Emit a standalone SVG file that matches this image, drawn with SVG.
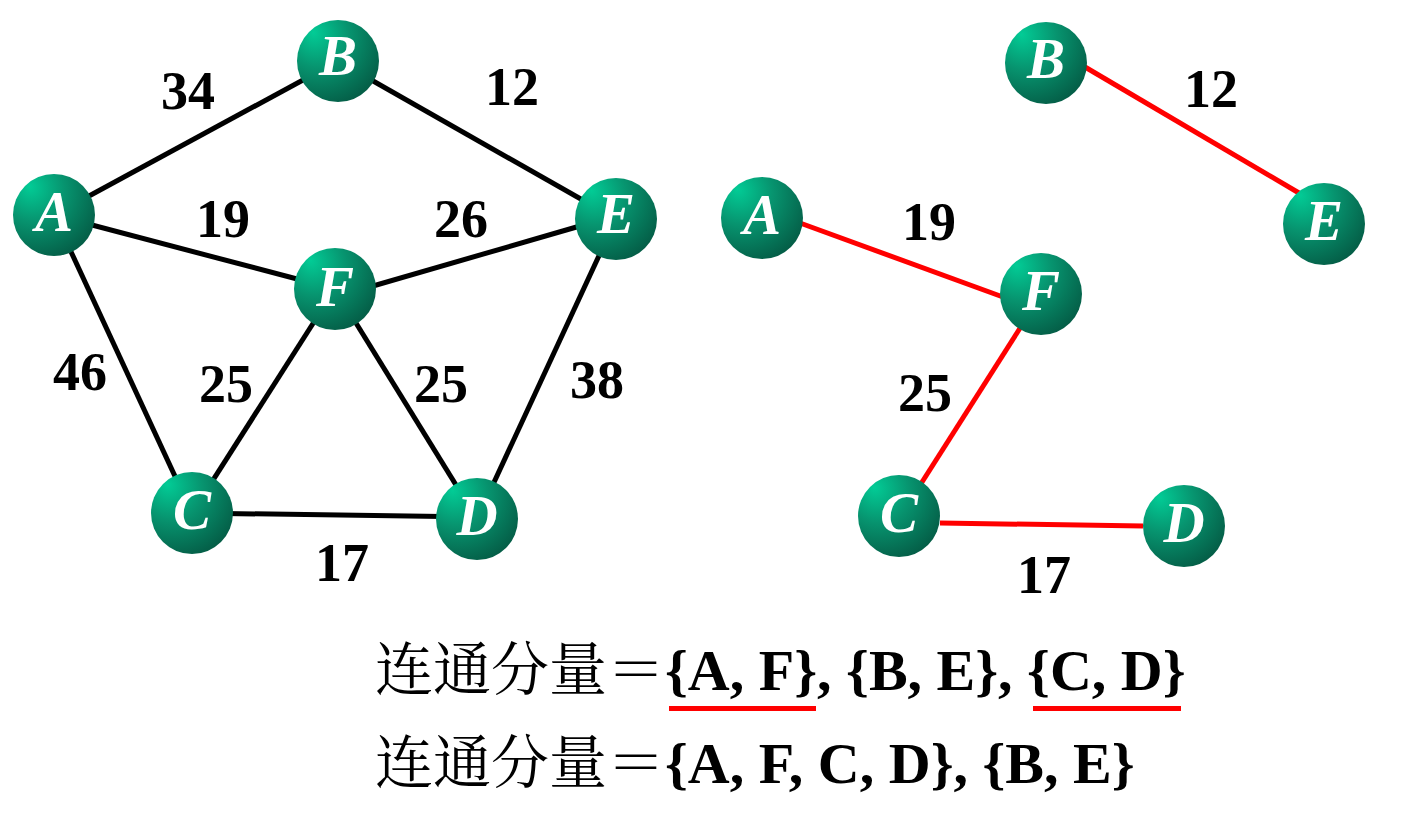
<svg xmlns="http://www.w3.org/2000/svg" width="1406" height="835" viewBox="0 0 1406 835">
<defs>
<radialGradient id="ball" cx="0.3" cy="0.25" r="0.85" fx="0.2" fy="0.15">
<stop offset="0" stop-color="#02cc96"/>
<stop offset="0.45" stop-color="#07946f"/>
<stop offset="1" stop-color="#045a44"/>
</radialGradient>
<style>
.node circle{fill:url(#ball)}
.node text{fill:#fff;font-family:"Liberation Serif","Times New Roman",serif;font-style:italic;font-weight:bold;font-size:57px;text-anchor:middle}
.blk{stroke:#000;stroke-width:5;fill:none}
.red{stroke:#ff0000;stroke-width:5;fill:none}
.w{font-family:"Liberation Serif","Times New Roman",serif;font-weight:bold;font-size:54px;text-anchor:middle;fill:#000}
.cap{font-family:"Liberation Serif","Noto Serif CJK SC","Noto Sans CJK SC",serif;font-size:58px;fill:#000}
.cap tspan.l{font-weight:bold}
</style>
</defs>
<rect width="1406" height="835" fill="#fff"/>
<g id="connectors">
<line class="blk" x1="54" y1="215" x2="338" y2="61"/>
<line class="blk" x1="338" y1="61" x2="616" y2="219"/>
<line class="blk" x1="54" y1="215" x2="335" y2="289"/>
<line class="blk" x1="335" y1="297" x2="580" y2="226"/>
<line class="blk" x1="54" y1="215" x2="192" y2="513"/>
<line class="blk" x1="335" y1="289" x2="192" y2="513"/>
<line class="blk" x1="335" y1="289" x2="477" y2="519"/>
<line class="blk" x1="616" y1="219" x2="477" y2="519"/>
<line class="blk" x1="192" y1="513" x2="477" y2="517"/>
<line class="red" x1="1085" y1="67" x2="1299" y2="193"/>
<line class="red" x1="800" y1="223" x2="1003" y2="297"/>
<line class="red" x1="1022" y1="325" x2="917" y2="490"/>
<line class="red" x1="940" y1="523" x2="1143" y2="526"/>
</g>
<g id="weights">
<text class="w" x="188" y="109">34</text>
<text class="w" x="512" y="105">12</text>
<text class="w" x="223" y="237">19</text>
<text class="w" x="461" y="237">26</text>
<text class="w" x="80" y="390">46</text>
<text class="w" x="226" y="402">25</text>
<text class="w" x="441" y="402">25</text>
<text class="w" x="597" y="398">38</text>
<text class="w" x="342" y="581">17</text>
<text class="w" x="1211" y="107">12</text>
<text class="w" x="929" y="240">19</text>
<text class="w" x="925" y="411">25</text>
<text class="w" x="1044" y="593">17</text>
</g>
<g id="node-A1" class="node"><circle cx="54" cy="215" r="41"/><text x="54" y="231">A</text></g>
<g id="node-B1" class="node"><circle cx="338" cy="61" r="41"/><text x="338" y="75">B</text></g>
<g id="node-E1" class="node"><circle cx="616" cy="219" r="41"/><text x="616" y="233">E</text></g>
<g id="node-F1" class="node"><circle cx="335" cy="289" r="41"/><text x="335" y="306">F</text></g>
<g id="node-C1" class="node"><circle cx="192" cy="513" r="41"/><text x="192" y="529">C</text></g>
<g id="node-D1" class="node"><circle cx="477" cy="519" r="41"/><text x="477" y="535">D</text></g>
<g id="node-B2" class="node"><circle cx="1046" cy="63" r="41"/><text x="1046" y="78">B</text></g>
<g id="node-E2" class="node"><circle cx="1324" cy="224" r="41"/><text x="1324" y="240">E</text></g>
<g id="node-A2" class="node"><circle cx="762" cy="218" r="41"/><text x="762" y="234">A</text></g>
<g id="node-F2" class="node"><circle cx="1041" cy="294" r="41"/><text x="1041" y="310">F</text></g>
<g id="node-C2" class="node"><circle cx="899" cy="516" r="41"/><text x="899" y="532">C</text></g>
<g id="node-D2" class="node"><circle cx="1184" cy="526" r="41"/><text x="1184" y="542">D</text></g>
<g id="caption">
<text class="cap" x="375" y="690">连通分量＝<tspan class="l">{A, F}, {B, E}, {C, D}</tspan></text>
<rect x="669" y="706" width="147" height="5" fill="#ff0000"/>
<rect x="1033" y="706" width="148" height="5" fill="#ff0000"/>
<text class="cap" x="375" y="783">连通分量＝<tspan class="l">{A, F, C, D}, {B, E}</tspan></text>
</g>
</svg>
